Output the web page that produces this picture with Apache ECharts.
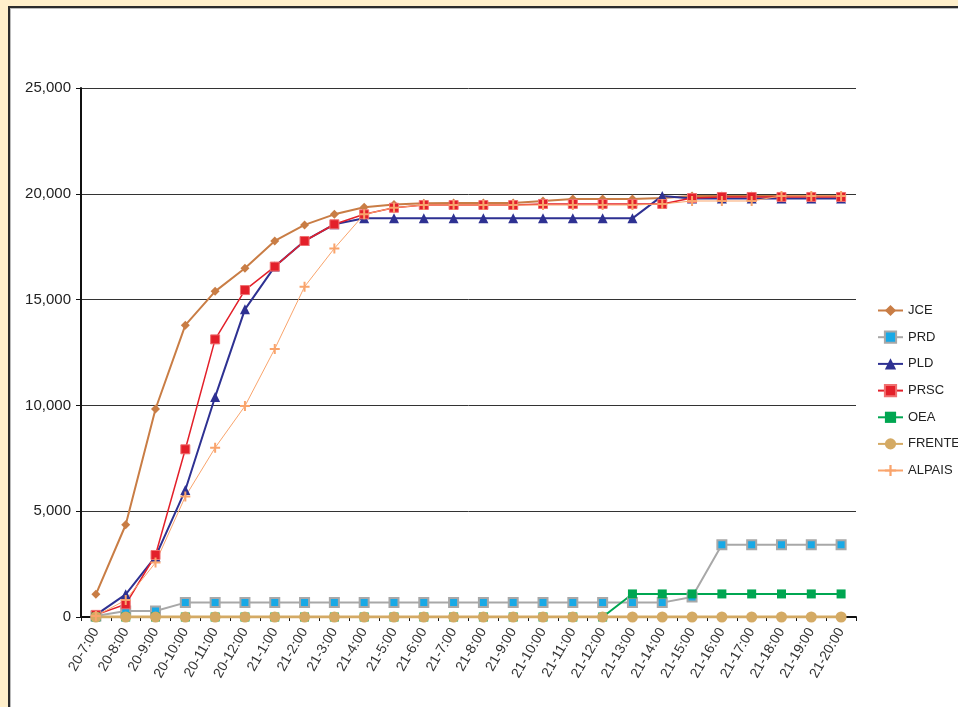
<!DOCTYPE html>
<html>
<head>
<meta charset="utf-8">
<script src="https://cdn.jsdelivr.net/npm/echarts@6/dist/echarts.min.js"></script>
<style>
  html, body { margin: 0; padding: 0; background: #FFEFCA; width: 958px; height: 707px; overflow: hidden; }
  #panel { position: absolute; left: 8px; top: 6px; width: 1000px; height: 800px; background: #fff;
           border-left: 2px solid #2b2b2b; border-top: 2px solid #2b2b2b; box-shadow: inset 1px 1px 0 #bbb; }
  #chart { position: absolute; left: 0; top: 0; width: 958px; height: 707px; }
</style>
</head>
<body>
<div id="panel"></div>
<div id="chart"></div>
<script>
const categories = ["20-7:00","20-8:00","20-9:00","20-10:00","20-11:00","20-12:00",
  "21-1:00","21-2:00","21-3:00","21-4:00","21-5:00","21-6:00","21-7:00","21-8:00","21-9:00","21-10:00",
  "21-11:00","21-12:00","21-13:00","21-14:00","21-15:00","21-16:00","21-17:00","21-18:00","21-19:00","21-20:00"];
const yTicks = [0, 5000, 10000, 15000, 20000, 25000];

const JCE    = [1070,4360,9830,13790,15390,16480,17770,18530,19030,19360,19500,19550,19570,19570,19570,19660,19750,19750,19750,19800,19900,19900,19900,19900,19900,19900];
const PRD    = [50,280,280,680,680,680,680,680,680,680,680,680,680,680,680,680,680,680,680,680,950,3420,3420,3420,3420,3420];
const PLD    = [100,1070,2850,6000,10400,14540,16560,17770,18560,18840,18840,18840,18840,18840,18840,18840,18840,18840,18840,19900,19780,19780,19780,19780,19780,19780];
const PRSC   = [100,600,2930,7925,13120,15450,16560,17770,18560,19030,19340,19470,19470,19470,19470,19520,19520,19520,19520,19520,19800,19850,19850,19850,19850,19850];
const OEA    = [0,0,0,0,0,0,0,0,0,0,0,0,0,0,0,0,0,0,1090,1090,1090,1090,1090,1090,1090,1090];
const FRENTE = [0,0,0,0,0,0,0,0,0,0,0,0,0,0,0,0,0,0,0,0,0,0,0,0,0,0];
const ALPAIS = [50,800,2570,5690,8000,9970,12670,15610,17420,19030,19340,19470,19470,19470,19470,19470,19470,19470,19470,19520,19660,19660,19660,19900,19900,19900];

const plus = 'path://M4,0H6V4H10V6H6V10H4V6H0V4H4Z';
const xsq = 'path://M0,0H10V10H0Z';

function ser(name, data, color, lw, symbol, size, itemStyle) {
  return {
    name, type: 'line', data,
    symbol, symbolSize: size,
    lineStyle: { color, width: lw },
    itemStyle: Object.assign({ color }, itemStyle || {}),
    emphasis: { disabled: true },
    animation: false
  };
}

const chart = echarts.init(document.getElementById('chart'), null, { renderer: 'canvas' });
chart.setOption({
  backgroundColor: 'transparent',
  textStyle: { fontFamily: 'Liberation Sans, Arial, sans-serif' },
  grid: { left: 81, right: 102, top: 88, bottom: 90, containLabel: false },
  legend: {
    orient: 'vertical', left: 877, top: 304, padding: 0,
    itemWidth: 25, itemHeight: 14, itemGap: 13.6,
    textStyle: { fontSize: 13, color: '#222', fontFamily: 'Liberation Sans, Arial, sans-serif' },
    data: ['JCE','PRD','PLD','PRSC','OEA','FRENTE','ALPAIS']
  },
  xAxis: {
    type: 'category', data: categories, boundaryGap: true,
    axisLine: { lineStyle: { color: '#111', width: 2 } },
    axisTick: { show: true, length: 4, lineStyle: { color: '#111' } },
    axisLabel: { rotate: 60, fontSize: 14, color: '#333', margin: 12, interval: 0 },
    splitLine: { show: false }
  },
  yAxis: {
    type: 'value', min: yTicks[0], max: yTicks[yTicks.length-1], interval: yTicks[1]-yTicks[0],
    axisLine: { show: true, lineStyle: { color: '#111', width: 2 } },
    axisTick: { show: true, length: 5, lineStyle: { color: '#111' } },
    axisLabel: { fontSize: 15, color: '#222', margin: 10,
      formatter: v => v.toLocaleString('en-US') },
    splitLine: { lineStyle: { color: '#333', width: 1 } }
  },
  series: [
    ser('JCE', JCE, '#C97D45', 2, 'diamond', 9),
    ser('PRD', PRD, '#A8A8A8', 2, 'rect', 9, { color: '#18A9E6', borderColor: '#A8A8A8', borderWidth: 2 }),
    ser('PLD', PLD, '#2E3192', 2, 'triangle', 10),
    ser('PRSC', PRSC, '#E3202A', 1.5, xsq, 9, { color: '#E3202A', borderColor: '#F07070', borderWidth: 1 }),
    ser('OEA', OEA, '#00A651', 2, 'rect', 9),
    ser('FRENTE', FRENTE, '#D4AA64', 3, 'circle', 11),
    ser('ALPAIS', ALPAIS, '#F9A46C', 1, plus, 10)
  ]
});
</script>
</body>
</html>
